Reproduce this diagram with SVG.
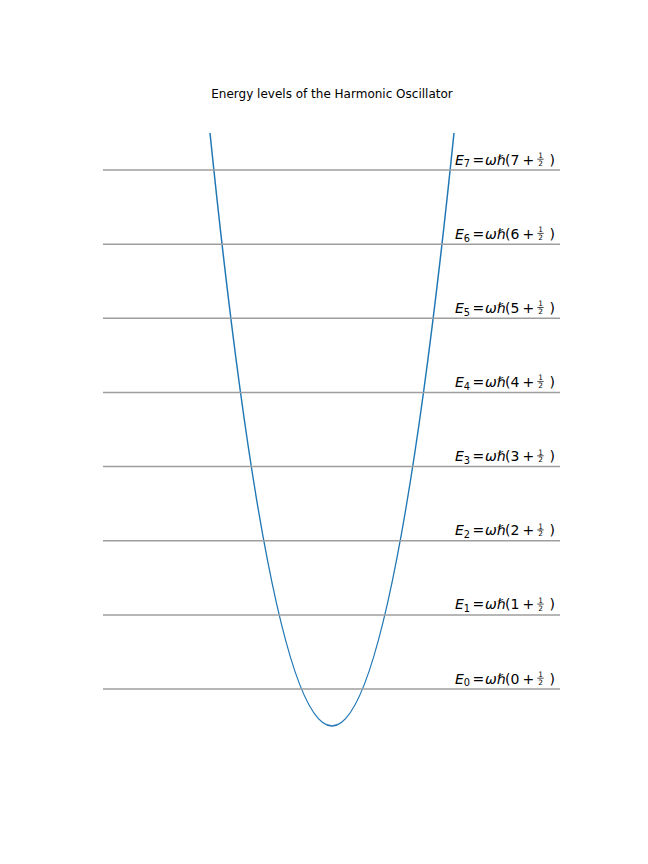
<svg xmlns="http://www.w3.org/2000/svg" width="648" height="864" viewBox="0 0 648 864">
<style>
.lvl{stroke:#9e9e9e;stroke-width:1.5;fill:none}
.pot{stroke:#1f77b4;stroke-width:1.5;fill:none}
.t{font-family:"DejaVu Sans",sans-serif;font-size:14px;fill:#000}
.i{font-style:italic}
.s{font-size:9.8px}
.f{font-family:"DejaVu Sans",sans-serif;font-size:7.4px;text-anchor:middle;fill:#000}
.bar{stroke:#000;stroke-width:0.7}
.title{font-family:"DejaVu Sans",sans-serif;font-size:12px;text-anchor:middle;fill:#000}
</style>
<defs>
<g id="frac">
<line class="bar" x1="537.3" y1="-10.8" x2="543.7" y2="-10.8"/>
<text class="f" x="540.5" y="-12">1</text>
<text class="f" x="540.5" y="-4.3">2</text>
</g>
</defs>
<rect width="648" height="864" fill="#fff"/>
<text class="title" x="332" y="98">Energy levels of the Harmonic Oscillator</text>
<g id="potential"><path class="pot" d="M210,133 Q332,1319 454,133"/></g>
<g id="level-7" transform="translate(0,170)"><line class="lvl" x1="103" y1="0" x2="560" y2="0"/><text class="t" y="-5.5"><tspan class="i" x="455">E</tspan><tspan class="s" x="463.8" dy="2.8">7</tspan><tspan x="472.5" dy="-2.8">=</tspan><tspan class="i" x="485">ωℏ</tspan><tspan x="505">(</tspan><tspan x="510.5">7</tspan><tspan x="522.5">+</tspan><tspan x="549.5">)</tspan></text><use href="#frac"/></g>
<g id="level-6" transform="translate(0,244.2)"><line class="lvl" x1="103" y1="0" x2="560" y2="0"/><text class="t" y="-5.5"><tspan class="i" x="455">E</tspan><tspan class="s" x="463.8" dy="2.8">6</tspan><tspan x="472.5" dy="-2.8">=</tspan><tspan class="i" x="485">ωℏ</tspan><tspan x="505">(</tspan><tspan x="510.5">6</tspan><tspan x="522.5">+</tspan><tspan x="549.5">)</tspan></text><use href="#frac"/></g>
<g id="level-5" transform="translate(0,318.3)"><line class="lvl" x1="103" y1="0" x2="560" y2="0"/><text class="t" y="-5.5"><tspan class="i" x="455">E</tspan><tspan class="s" x="463.8" dy="2.8">5</tspan><tspan x="472.5" dy="-2.8">=</tspan><tspan class="i" x="485">ωℏ</tspan><tspan x="505">(</tspan><tspan x="510.5">5</tspan><tspan x="522.5">+</tspan><tspan x="549.5">)</tspan></text><use href="#frac"/></g>
<g id="level-4" transform="translate(0,392.4)"><line class="lvl" x1="103" y1="0" x2="560" y2="0"/><text class="t" y="-5.5"><tspan class="i" x="455">E</tspan><tspan class="s" x="463.8" dy="2.8">4</tspan><tspan x="472.5" dy="-2.8">=</tspan><tspan class="i" x="485">ωℏ</tspan><tspan x="505">(</tspan><tspan x="510.5">4</tspan><tspan x="522.5">+</tspan><tspan x="549.5">)</tspan></text><use href="#frac"/></g>
<g id="level-3" transform="translate(0,466.6)"><line class="lvl" x1="103" y1="0" x2="560" y2="0"/><text class="t" y="-5.5"><tspan class="i" x="455">E</tspan><tspan class="s" x="463.8" dy="2.8">3</tspan><tspan x="472.5" dy="-2.8">=</tspan><tspan class="i" x="485">ωℏ</tspan><tspan x="505">(</tspan><tspan x="510.5">3</tspan><tspan x="522.5">+</tspan><tspan x="549.5">)</tspan></text><use href="#frac"/></g>
<g id="level-2" transform="translate(0,540.7)"><line class="lvl" x1="103" y1="0" x2="560" y2="0"/><text class="t" y="-5.5"><tspan class="i" x="455">E</tspan><tspan class="s" x="463.8" dy="2.8">2</tspan><tspan x="472.5" dy="-2.8">=</tspan><tspan class="i" x="485">ωℏ</tspan><tspan x="505">(</tspan><tspan x="510.5">2</tspan><tspan x="522.5">+</tspan><tspan x="549.5">)</tspan></text><use href="#frac"/></g>
<g id="level-1" transform="translate(0,614.9)"><line class="lvl" x1="103" y1="0" x2="560" y2="0"/><text class="t" y="-5.5"><tspan class="i" x="455">E</tspan><tspan class="s" x="463.8" dy="2.8">1</tspan><tspan x="472.5" dy="-2.8">=</tspan><tspan class="i" x="485">ωℏ</tspan><tspan x="505">(</tspan><tspan x="510.5">1</tspan><tspan x="522.5">+</tspan><tspan x="549.5">)</tspan></text><use href="#frac"/></g>
<g id="level-0" transform="translate(0,689)"><line class="lvl" x1="103" y1="0" x2="560" y2="0"/><text class="t" y="-5.5"><tspan class="i" x="455">E</tspan><tspan class="s" x="463.8" dy="2.8">0</tspan><tspan x="472.5" dy="-2.8">=</tspan><tspan class="i" x="485">ωℏ</tspan><tspan x="505">(</tspan><tspan x="510.5">0</tspan><tspan x="522.5">+</tspan><tspan x="549.5">)</tspan></text><use href="#frac"/></g>
</svg>
